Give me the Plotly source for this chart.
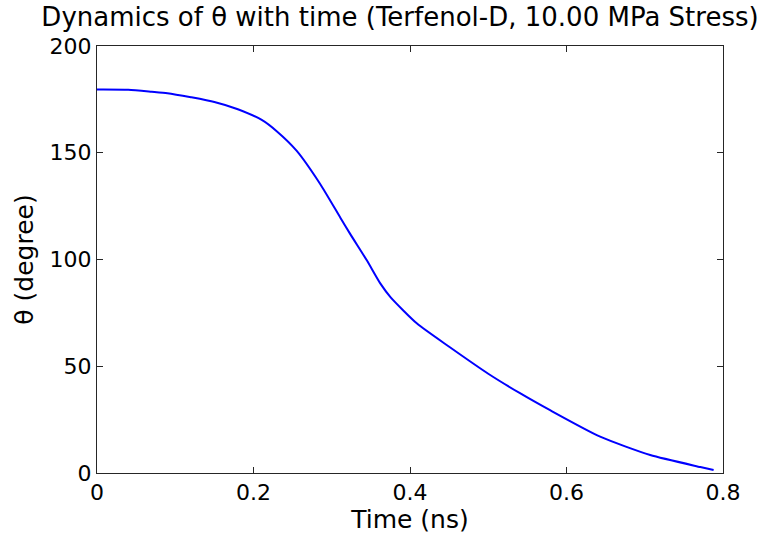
import plotly.graph_objects as go

time_ns = [0, 0.04, 0.07, 0.09, 0.12, 0.15, 0.18, 0.21, 0.23, 0.255, 0.285, 0.311, 0.3235,
           0.345, 0.362, 0.375, 0.409, 0.451, 0.5, 0.54, 0.579, 0.643, 0.707, 0.771, 0.788]
theta_deg = [179.6, 179.5, 178.6, 177.9, 176.0, 173.8, 170.4, 165.5, 160.0, 151.0, 135.5, 119.6, 112.0,
             99.5, 88.8, 82.4, 70.0, 58.9, 46.5, 37.5, 29.4, 17.0, 8.4, 2.8, 1.4]

x_ticks = [0, 0.2, 0.4, 0.6, 0.8]
x_labels = ["0", "0.2", "0.4", "0.6", "0.8"]
y_ticks = [0, 50, 100, 150, 200]
y_labels = ["0", "50", "100", "150", "200"]

FONT = "DejaVu Sans"

fig = go.Figure(go.Scatter(x=time_ns, y=theta_deg, mode="lines",
                           line=dict(color="#0000FF", width=2, shape="spline", smoothing=0.6)))

axis_common = dict(showline=True, linecolor="#262626", linewidth=1, mirror="ticks",
                   ticks="inside", ticklen=6, tickcolor="#262626", showgrid=False,
                   zeroline=False, tickfont=dict(family=FONT, size=22, color="#000"))

fig.update_layout(
    width=775, height=544,
    margin=dict(l=97, r=52, t=46, b=71),
    paper_bgcolor="white", plot_bgcolor="white",
    showlegend=False,
    title=dict(text="Dynamics of θ with time (Terfenol-D, 10.00 MPa Stress)",
               x=400 / 775, xanchor="center", y=1 - 17 / 544, yanchor="middle",
               font=dict(family=FONT, size=26, color="#000")),
    xaxis=dict(range=[0, 0.8], tickvals=x_ticks, ticktext=x_labels,
               title=dict(text="Time (ns)", font=dict(family=FONT, size=25, color="#000"), standoff=2),
               **axis_common),
    yaxis=dict(range=[0, 200], tickvals=y_ticks, ticktext=y_labels,
               title=dict(text="θ (degree)", font=dict(family=FONT, size=25, color="#000"), standoff=8),
               **axis_common),
)

fig.write_html("out.html")
